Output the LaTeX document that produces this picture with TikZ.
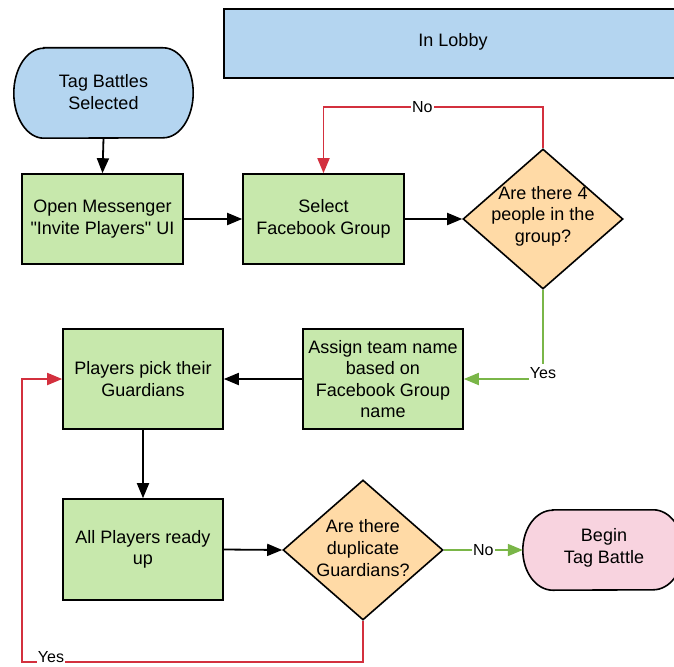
\documentclass[tikz,border=0pt]{standalone}
\usepackage{fontspec}
\setmainfont{Liberation Sans}[Ligatures=TeXOff]
\usetikzlibrary{shapes.geometric,arrows.meta}
\definecolor{lblue}{HTML}{B4D5F0}
\definecolor{lgreen}{HTML}{C7E8AC}
\definecolor{lorange}{HTML}{FFDAA6}
\definecolor{lpink}{HTML}{F8D3DF}
\definecolor{redln}{HTML}{D3303E}
\definecolor{greenln}{HTML}{7AB648}
\begin{document}
\begin{tikzpicture}[x=1pt,y=-1pt,
  txt/.style={align=center, font=\fontsize{18}{21.6}\selectfont, inner sep=0pt},
  box/.style={txt, draw=black, line width=1.6pt, fill=lgreen, minimum width=161pt, minimum height=90pt},
  tall/.style={box, minimum width=160pt, minimum height=100pt},
  dia/.style={draw=black, line width=1.6pt, fill=lorange, diamond, minimum width=160pt, minimum height=140pt, inner sep=0pt, aspect=1.14},
  term/.style={draw=black, line width=1.6pt},
  arr/.style={line width=1.8pt, -{Triangle[length=15pt,width=12pt]}},
  blk/.style={arr, black},
  rln/.style={arr, redln},
  gln/.style={arr, greenln},
  lab/.style={fill=white, text=black, inner sep=1pt, minimum height=17pt, font=\fontsize{16}{19}\selectfont}
]
\useasboundingbox (0,0) rectangle (674,666);

% In Lobby banner (runs off the right edge)
\node[txt, draw=black, line width=1.6pt, fill=lblue, minimum width=500pt, minimum height=69pt, anchor=west] (lobby) at (223,43.5) {};
\node[txt] (lobbytext) at (453,42) {In Lobby};

% Terminator: Tag Battles Selected
\node[txt, minimum width=179pt, minimum height=90pt] (tag) at (103.5,93) {};
\draw[term, fill=lblue] ([xshift=30pt]tag.north west) -- ([xshift=-30pt]tag.north east)
  arc[start angle=90, end angle=-90, x radius=30pt, y radius=45pt]
  -- ([xshift=30pt]tag.south west)
  arc[start angle=270, end angle=90, x radius=30pt, y radius=45pt] -- cycle;
\node[txt] (tagtext) at (103.5,92) {Tag Battles\\Selected};

% Boxes
\node[box] (open) at (102.5,219) {Open Messenger\\"Invite Players" UI};
\node[box] (select) at (323.5,219) {Select\\Facebook Group};
\node[tall] (assign) at (383,379) {Assign team name\\based on\\Facebook Group\\name};
\node[tall] (players) at (143,379) {Players pick their\\Guardians};
\node[box, minimum width=160pt, minimum height=101pt] (ready) at (143,549.5) {All Players ready\\up};

% Diamonds
\node[dia] (d1) at (543,219) {};
\node[txt] (d1text) at (543,216) {Are there 4\\people in the\\group?};
\node[dia] (d2) at (363,550) {};
\node[txt] (d2text) at (363,548) {Are there\\duplicate\\Guardians?};

% Terminator: Begin Tag Battle
\node[txt, minimum width=160pt, minimum height=80pt] (begin) at (603,550) {};
\draw[term, fill=lpink] ([xshift=30pt]begin.north west) -- ([xshift=-30pt]begin.north east)
  arc[start angle=90, end angle=-90, x radius=30pt, y radius=40pt]
  -- ([xshift=30pt]begin.south west)
  arc[start angle=270, end angle=90, x radius=30pt, y radius=40pt] -- cycle;
\node[txt] (begintext) at (604,548) {Begin\\Tag Battle};

% Helper coordinates
\coordinate (nolevel) at (0,107);
\coordinate (bot) at (0,662);
\coordinate (botleft) at (22,662);

% Connectors
\draw[blk] (tag.south) -- (open.north);
\draw[blk] (open.east) -- (select.west);
\draw[blk] (select.east) -- (d1.west);
\draw[rln] (d1.north) -- (d1.north |- nolevel) -- node[lab, pos=0.55]{No} (select.north |- nolevel) -- (select.north);
\draw[gln] (d1.south) -- (d1.south |- assign.east) -- (assign.east);
\node[lab, minimum height=18pt] (yes1) at (543,373) {Yes};
\draw[blk] (assign.west) -- (players.east);
\draw[blk] (players.south) -- (ready.north);
\draw[blk] (ready.east) -- (d2.west);
\draw[gln] (d2.east) -- node[lab]{No} (begin.west);
\draw[rln] (d2.south) -- (d2.south |- bot) -- node[lab, pos=0.915, yshift=5pt, minimum height=13pt]{Yes} (botleft) -- (botleft |- players.west) -- (players.west);
\end{tikzpicture}
\end{document}
